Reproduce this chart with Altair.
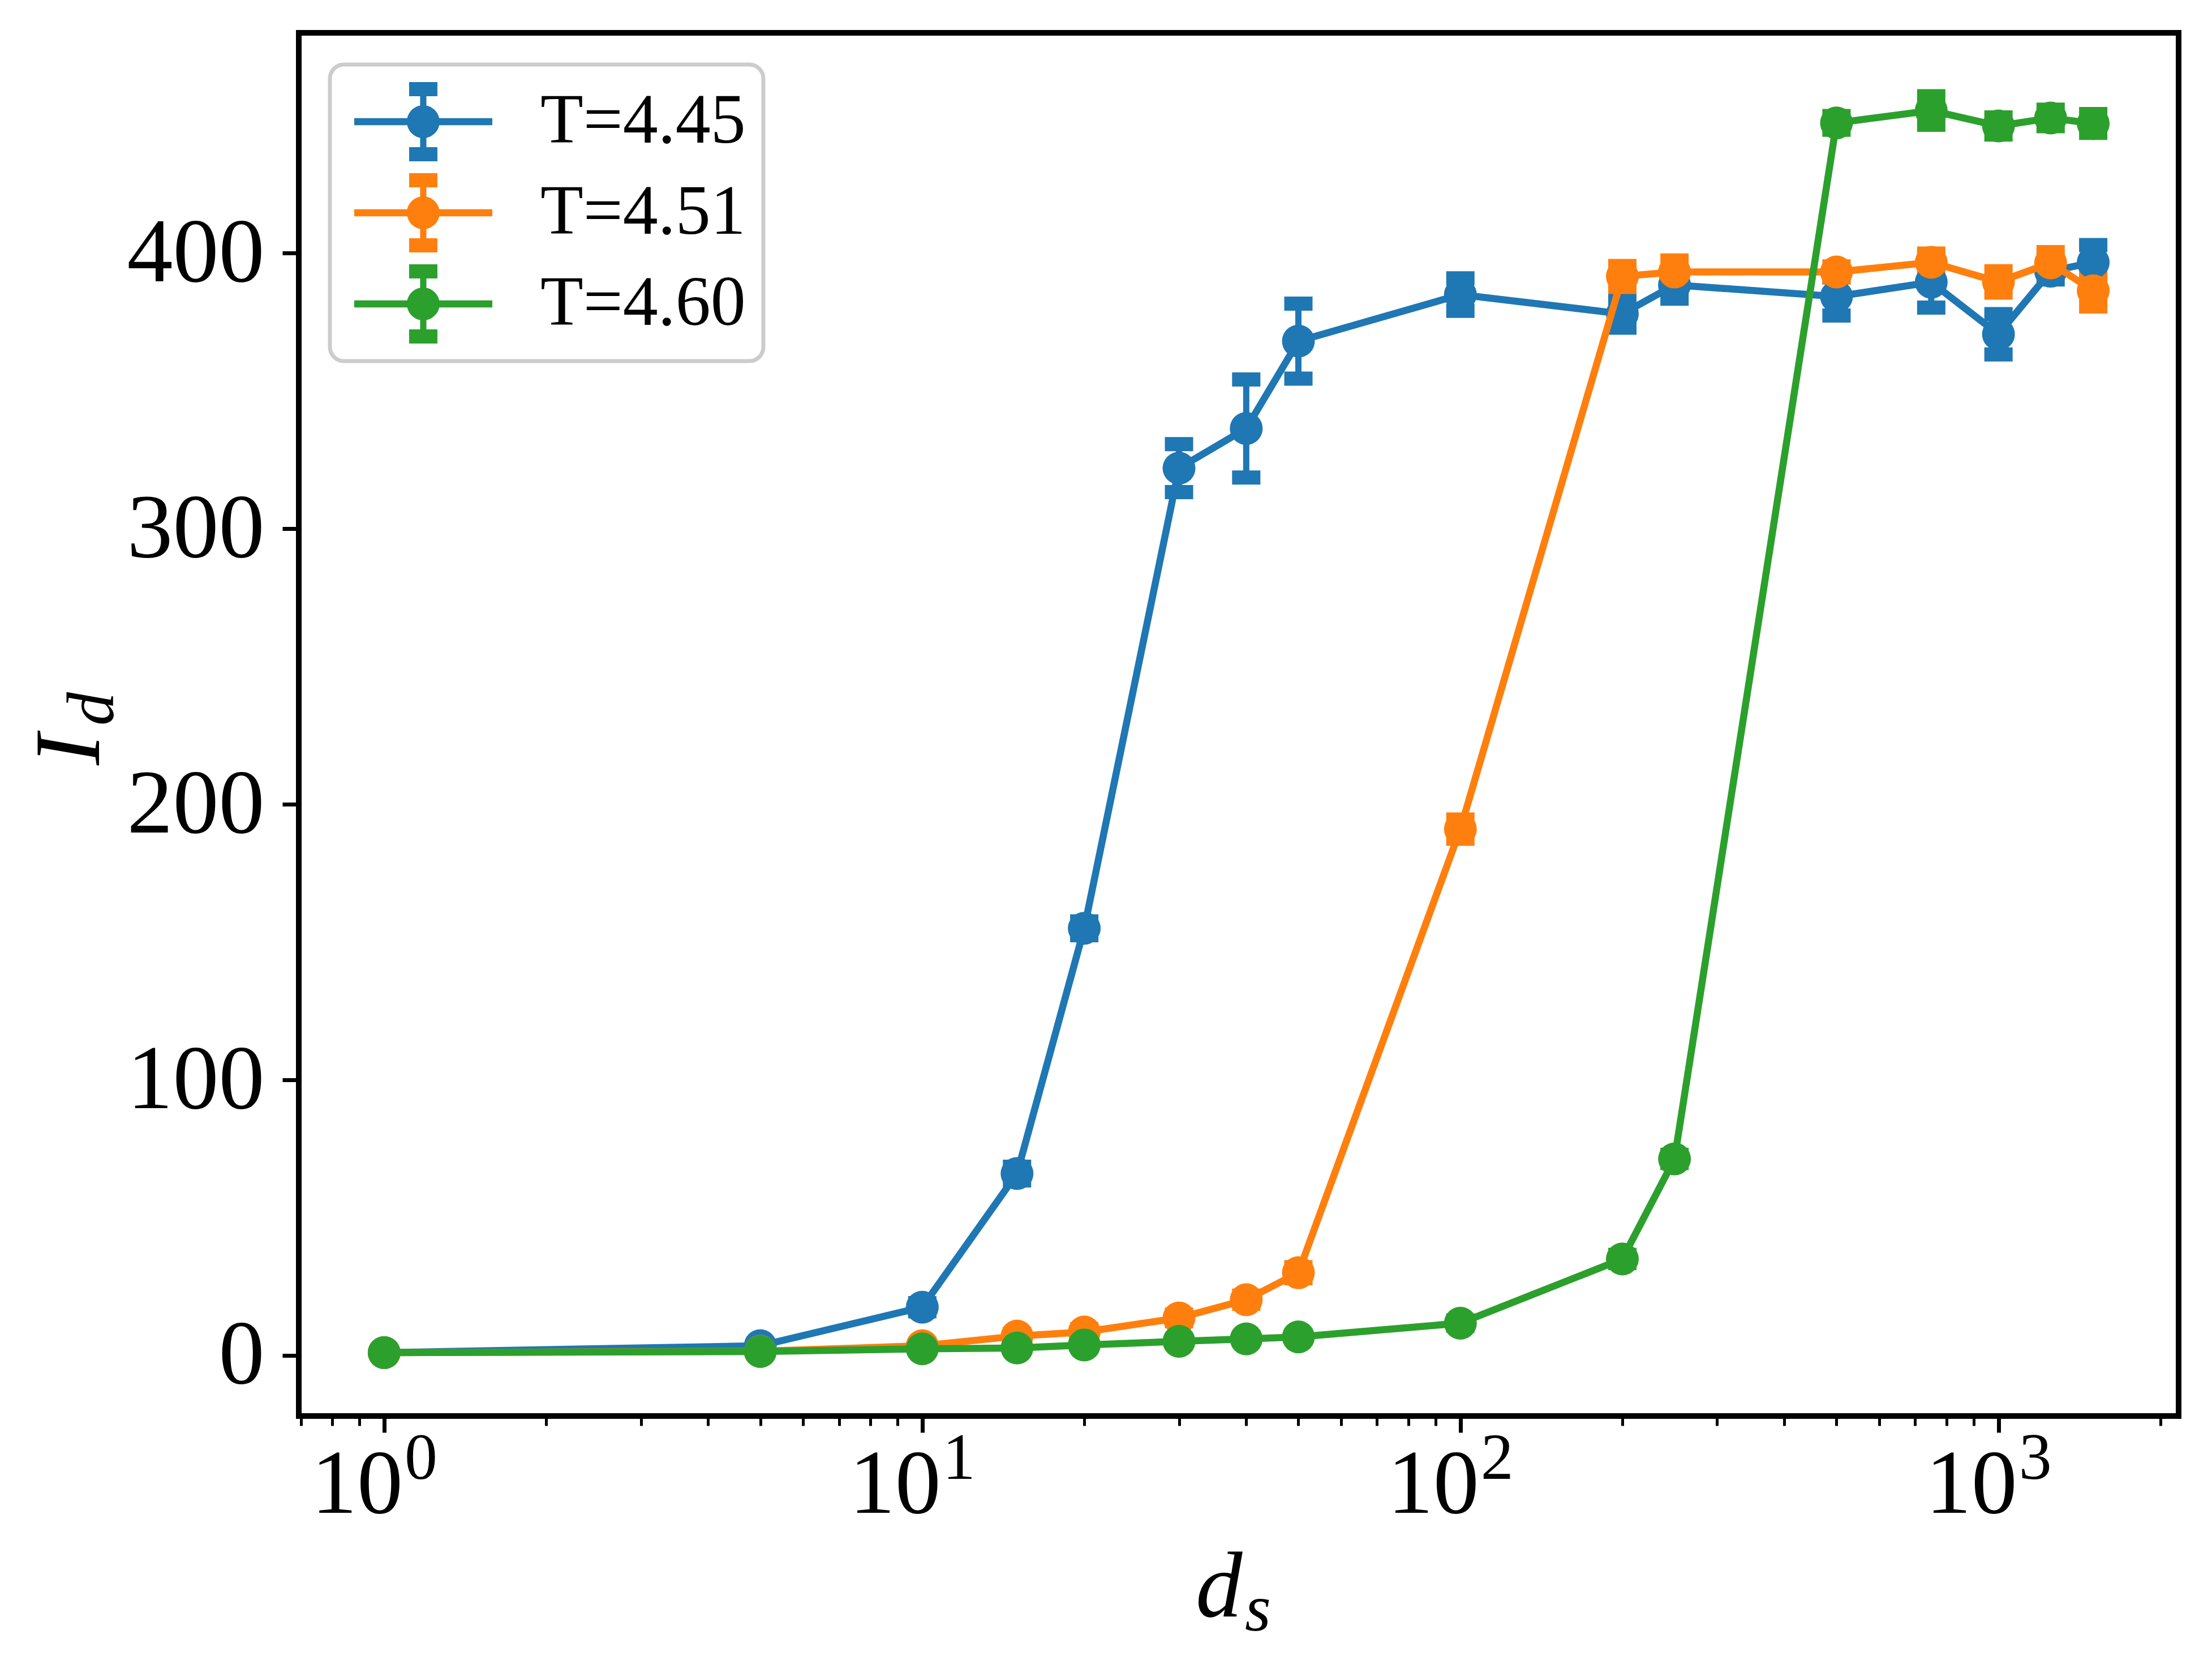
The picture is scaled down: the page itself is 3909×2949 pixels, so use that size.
import altair as alt
import pandas as pd

# ---------------- data ----------------
ds = [1, 5, 10, 15, 20, 30, 40, 50, 100, 200, 250, 500, 750, 1000, 1250, 1500]
series_names = ["T=4.45", "T=4.51", "T=4.60"]
colors = ["#1f77b4", "#ff7f0e", "#2ca02c"]

id_445 = [1.0, 3.5, 17.5, 66, 155, 322, 336.4, 368.1, 385, 378, 388.5, 384.3, 389.5, 370.6, 393.5, 396.7]
err_445 = [0.3, 0.5, 1.5, 2.5, 2.5, 8.7, 17.8, 13.6, 5.9, 5.0, 5.0, 6.9, 9.2, 7.3, 3.0, 6.3]
id_451 = [1.0, 1.5, 3.5, 7.0, 8.5, 13.6, 20.2, 30, 191, 391.6, 393.2, 393.2, 396.7, 389.6, 396.5, 386.4]
err_451 = [0.2, 0.3, 0.5, 0.8, 1.0, 1.2, 1.5, 2.0, 3.5, 3.8, 4.2, 2.0, 3.2, 3.9, 3.9, 5.7]
id_460 = [1.0, 1.4, 2.4, 2.7, 3.8, 5.1, 6.0, 6.7, 11.7, 35, 71.3, 447.3, 451.8, 446.2, 449.1, 447.1]
err_460 = [0.2, 0.2, 0.3, 0.3, 0.4, 0.5, 0.5, 0.6, 1.0, 1.5, 1.5, 2.5, 5.2, 3.1, 3.0, 3.4]

decades = [1, 10, 100, 1000]
exponents = ["0", "1", "2", "3"]
y_ticks = [0, 100, 200, 300, 400]
minor_ticks = [0.7, 0.8, 0.9, 2, 3, 4, 5, 6, 7, 8, 9, 20, 30, 40, 50, 60, 70, 80, 90,
               200, 300, 400, 500, 600, 700, 800, 900, 2000]

rows = []
for name, vals, errs in zip(series_names, [id_445, id_451, id_460], [err_445, err_451, err_460]):
    for x, v, e in zip(ds, vals, errs):
        rows.append({"series": name, "ds": x, "Id": v, "lo": v - e, "hi": v + e})
df = pd.DataFrame(rows)
lab_df = pd.DataFrame({"dec": decades, "exp": exponents})
one = pd.DataFrame({"k": [0]})

# ---------------- layout ----------------
W, H = 3322, 2444
SERIF = "Liberation Serif"

xs = alt.Scale(type="log", domain=[0.6939, 2161.6], nice=False)
ys = alt.Scale(domain=[-22, 480], nice=False, zero=False)
cs = alt.Scale(domain=series_names, range=colors)

major_x_axis = alt.Axis(values=decades, orient="bottom", tickSize=29, tickWidth=7, tickColor="black",
                        labels=False, domain=False, grid=False, title=None)
minor_x_axis = alt.Axis(values=minor_ticks, orient="bottom", tickSize=17, tickWidth=5, tickColor="black",
                        labels=False, domain=False, grid=False, title=None)
y_axis = alt.Axis(values=y_ticks, orient="left", tickSize=29, tickWidth=7, tickColor="black",
                  labelFont=SERIF, labelFontSize=162, labelPadding=32, labelColor="black",
                  labelLimit=2000, domain=False, grid=False, title=None)

CAP = "M-1,-0.5H1V0.5H-1Z"
LEG = ("M-0.829,-0.09H2.657V0.09H-0.829Z"
       "M0.835,-0.85H0.993V0.85H0.835Z"
       "M0.557,-1H1.271V-0.643H0.557Z"
       "M0.557,0.643H1.271V1H0.557Z"
       "M0.5,0A0.414,0.414 0 1,1 1.328,0A0.414,0.414 0 1,1 0.5,0Z")

legend = alt.Legend(title=None, orient="none", legendX=55, legendY=56,
                    symbolType=LEG, symbolSize=19600, symbolStrokeWidth=0, symbolOpacity=1,
                    labelFont=SERIF, labelFontSize=124, labelColor="black",
                    labelOffset=201, labelLimit=2000, rowPadding=21)

base = alt.Chart(df)
bars_layers = []
line_layers = []
for i, name in enumerate(series_names):
    f = base.transform_filter(alt.datum.series == name)
    col_nl = alt.Color("series:N", scale=cs, legend=None)
    xa = major_x_axis if i == 0 else None
    ya = y_axis if i == 0 else None
    bars = f.mark_rule(strokeWidth=11).encode(
        x=alt.X("ds:Q", scale=xs, axis=xa),
        y=alt.Y("lo:Q", scale=ys, axis=ya),
        y2="hi:Q",
        color=col_nl,
    )
    cap_lo = f.mark_point(shape=CAP, filled=True, size=2500, opacity=1, strokeWidth=0).encode(
        x=alt.X("ds:Q", scale=xs, axis=minor_x_axis if i == 0 else None),
        y=alt.Y("lo:Q", scale=ys, axis=None),
        color=col_nl,
    )
    cap_hi = f.mark_point(shape=CAP, filled=True, size=2500, opacity=1, strokeWidth=0).encode(
        x=alt.X("ds:Q", scale=xs, axis=None),
        y=alt.Y("hi:Q", scale=ys, axis=None),
        color=col_nl,
    )
    bars_layers += [bars, cap_lo, cap_hi]
    line = f.mark_line(strokeWidth=12.5).encode(
        x=alt.X("ds:Q", scale=xs, axis=None),
        y=alt.Y("Id:Q", scale=ys, axis=None),
        color=col_nl,
    )
    pts = f.mark_circle(size=3364, opacity=1).encode(
        x=alt.X("ds:Q", scale=xs, axis=None),
        y=alt.Y("Id:Q", scale=ys, axis=None),
        color=alt.Color("series:N", scale=cs, legend=legend if i == 0 else None),
    )
    line_layers += [line, pts]

# x tick labels 10^k
ten = alt.Chart(lab_df).mark_text(font=SERIF, fontSize=162, align="right",
                                  baseline="alphabetic", dx=33, color="black").encode(
    x=alt.X("dec:Q", scale=xs, axis=None), y=alt.value(H + 171), text=alt.value("10"))
sup = alt.Chart(lab_df).mark_text(font=SERIF, fontSize=116, align="left",
                                  baseline="alphabetic", dx=36, color="black").encode(
    x=alt.X("dec:Q", scale=xs, axis=None), y=alt.value(H + 111), text="exp:N")

# axis titles d_s and I_d
t_d = alt.Chart(one).mark_text(font=SERIF, fontSize=165, fontStyle="italic", align="left",
                               baseline="alphabetic", color="black").encode(
    x=alt.value(1585), y=alt.value(2798), text=alt.value("d"))
t_s = alt.Chart(one).mark_text(font=SERIF, fontSize=118, fontStyle="italic", align="left",
                               baseline="alphabetic", color="black").encode(
    x=alt.value(1672), y=alt.value(2823), text=alt.value("s"))
t_I = alt.Chart(one).mark_text(font=SERIF, fontSize=165, fontStyle="italic", align="left",
                               baseline="alphabetic", angle=270, color="black").encode(
    x=alt.value(-353), y=alt.value(1294), text=alt.value("I"))
t_sub = alt.Chart(one).mark_text(font=SERIF, fontSize=118, fontStyle="italic", align="left",
                                 baseline="alphabetic", angle=270, color="black").encode(
    x=alt.value(-328), y=alt.value(1224), text=alt.value("d"))

chart = alt.layer(*bars_layers, *line_layers, ten, sup, t_d, t_s, t_I, t_sub).resolve_axis(
    x="independent", y="independent"
).resolve_legend(
    color="independent"
).properties(
    width=W, height=H,
    autosize=alt.AutoSizeParams(type="none"),
    padding={"left": 520, "top": 50, "right": 51, "bottom": 439},
    background="white",
).configure_view(
    stroke="black", strokeWidth=10
).configure_legend(
    fillColor="white", strokeColor="#cccccc", strokeWidth=7, cornerRadius=25, padding=31
)

chart.save("out.html", embed_options={"renderer": "svg", "actions": False})
